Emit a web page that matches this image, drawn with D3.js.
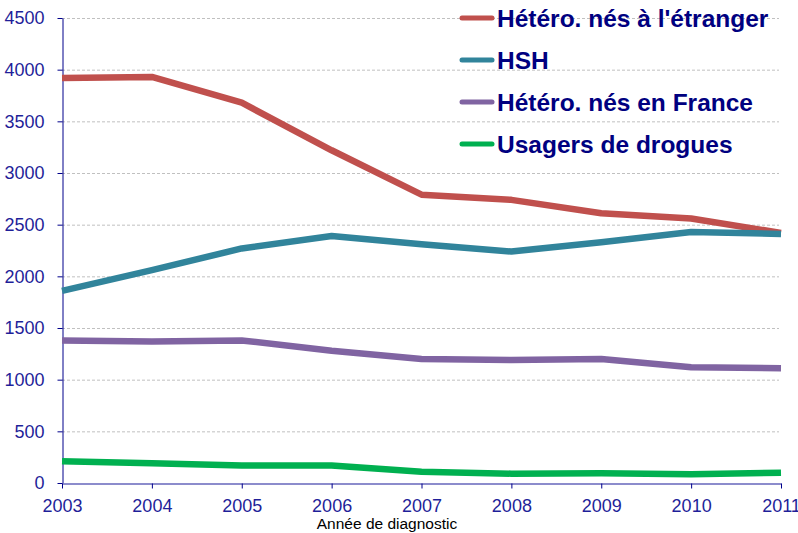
<!DOCTYPE html>
<html>
<head>
<meta charset="utf-8">
<script src="https://cdn.jsdelivr.net/npm/d3@7"></script>
<style>
  body { margin: 0; background: #fff; }
  svg { display: block; font-family: "Liberation Sans", Arial, sans-serif; }
</style>
</head>
<body>
<svg id="chart" width="798" height="533"></svg>
<script>
// data
var years = [2003, 2004, 2005, 2006, 2007, 2008, 2009, 2010, 2011];
var heteroEtranger = [3920, 3930, 3680, 3220, 2790, 2740, 2610, 2560, 2420];
var hsh = [1860, 2060, 2270, 2390, 2310, 2240, 2330, 2430, 2410];
var heteroFrance = [1380, 1370, 1380, 1280, 1200, 1190, 1200, 1120, 1110];
var usagers = [210, 190, 170, 170, 110, 90, 95, 85, 100];
var yTicks = [0, 500, 1000, 1500, 2000, 2500, 3000, 3500, 4000, 4500];

var series = [
    { name: "Hétéro. nés à l'étranger", values: heteroEtranger, color: "#c0504d" },
    { name: "HSH", values: hsh, color: "#31849b" },
    { name: "Hétéro. nés en France", values: heteroFrance, color: "#8064a2" },
    { name: "Usagers de drogues", values: usagers, color: "#00b050" }
];

var svg = d3.select("#chart");
var plotLeft = 62, plotRight = 781, plotTop = 18, plotBottom = 483;
var tickFont = "'Liberation Sans Narrow', 'Arial Narrow', sans-serif";

var x = d3.scaleLinear().domain([2003, 2011]).range([plotLeft, plotRight]);
var y = d3.scaleLinear().domain([0, 4500]).range([plotBottom, plotTop]);

// gridlines
svg.append("g")
    .selectAll("line")
    .data(yTicks.filter(function (d) { return d > 0; }))
    .enter().append("line")
    .attr("x1", plotLeft).attr("x2", plotRight - 2)
    .attr("y1", function (d) { return y(d) + 0.5; })
    .attr("y2", function (d) { return y(d) + 0.5; })
    .attr("stroke", "#c0c0c0")
    .attr("stroke-dasharray", "3,2");

// y axis
var yAxis = svg.append("g")
    .attr("transform", "translate(" + (plotLeft + 0.5) + ",0)")
    .call(d3.axisLeft(y).tickValues(yTicks).tickFormat(d3.format("d")).tickSize(5).tickSizeOuter(0).tickPadding(13));
yAxis.select(".domain").attr("stroke", "#00008b");
yAxis.selectAll(".tick line").attr("stroke", "#00008b");
yAxis.selectAll("text").attr("fill", "#1f1f99").style("font-size", "18px")
    .style("font-family", tickFont);

// x axis
var xAxis = svg.append("g")
    .attr("transform", "translate(0," + (plotBottom + 0.5) + ")")
    .call(d3.axisBottom(x).tickValues(years).tickFormat(d3.format("d")).tickSize(5).tickSizeOuter(0).tickPadding(11));
xAxis.select(".domain").attr("stroke", "#6666bb").attr("stroke-width", 1.5);
xAxis.selectAll(".tick line").attr("stroke", "#00008b");
xAxis.selectAll("text").attr("fill", "#1f1f99").style("font-size", "18px")
    .style("font-family", tickFont);

svg.append("text")
    .attr("x", 387).attr("y", 529)
    .attr("text-anchor", "middle")
    .style("font-size", "15.5px")
    .style("font-family", tickFont)
    .attr("fill", "#000")
    .text("Année de diagnostic");

// lines
var line = d3.line()
    .x(function (d, i) { return x(years[i]); })
    .y(function (d) { return y(d); });

svg.append("g").selectAll("path")
    .data(series)
    .enter().append("path")
    .attr("d", function (s) { return line(s.values); })
    .attr("fill", "none")
    .attr("stroke", function (s) { return s.color; })
    .attr("stroke-width", 6.5)
    .attr("stroke-linejoin", "round");

// legend
var leg = svg.append("g").selectAll("g")
    .data(series)
    .enter().append("g")
    .attr("transform", function (s, i) { return "translate(0," + (i * 42) + ")"; });
leg.append("line")
    .attr("x1", 462).attr("x2", 492).attr("y1", 18).attr("y2", 18)
    .attr("stroke", function (s) { return s.color; })
    .attr("stroke-width", 5)
    .attr("stroke-linecap", "round");
leg.append("text")
    .attr("x", 497).attr("y", 27)
    .style("font-size", "24.5px").style("font-weight", "bold")
    .attr("fill", "#000080")
    .text(function (s) { return s.name; });
</script>
</body>
</html>
